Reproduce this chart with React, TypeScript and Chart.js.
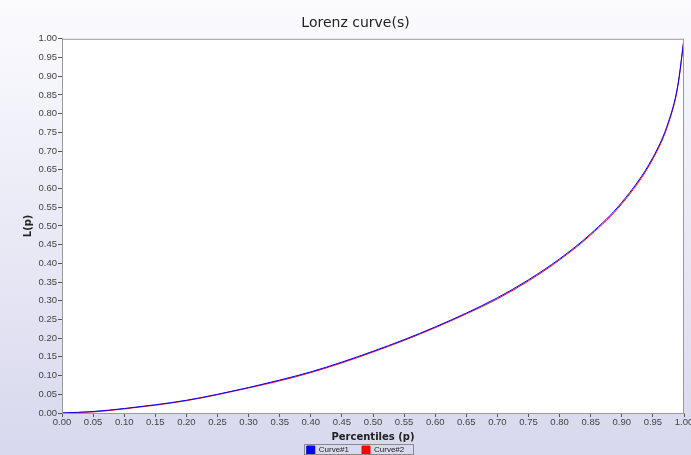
import React, { useEffect, useRef } from "react";
import { Chart, registerables } from "chart.js";

Chart.register(...registerables);

const percentiles = [0, 0.05, 0.1, 0.15, 0.2, 0.25, 0.3, 0.35, 0.4, 0.45, 0.5, 0.55, 0.6, 0.65, 0.7, 0.75, 0.8, 0.85, 0.9, 0.95, 0.975, 0.99, 1.0];
const curve1 = [0, 0.004, 0.012, 0.022, 0.034, 0.05, 0.068, 0.088, 0.11, 0.136, 0.165, 0.196, 0.23, 0.267, 0.308, 0.356, 0.412, 0.479, 0.563, 0.683, 0.778, 0.875, 1.0];
const curve2 = [0, 0.003, 0.011, 0.021, 0.033, 0.049, 0.067, 0.086, 0.108, 0.134, 0.163, 0.194, 0.228, 0.265, 0.305, 0.353, 0.409, 0.476, 0.559, 0.679, 0.774, 0.872, 1.0];
const seriesNames = ["Curve#1", "Curve#2"];
const seriesColors = ["#0000ff", "#ff0000"];
const chartTitle = "Lorenz curve(s)";
const xTitle = "Percentiles (p)";
const yTitle = "L(p)";

const LEGEND_SHIFT = 10;

const bgPlugin = {
  id: "bgPlugin",
  beforeDraw(chart: any) {
    const { ctx, width, height, chartArea } = chart;
    const lg = chart.legend;
    if (lg && !lg.__wrapped) {
      const origDraw = lg.draw;
      lg.draw = function (...args: any[]) {
        const t = this.top;
        this.top = t - LEGEND_SHIFT;
        origDraw.apply(this, args);
        this.top = t;
      };
      lg.__wrapped = true;
    }
    ctx.save();
    const g = ctx.createLinearGradient(0, 0, 0, height);
    g.addColorStop(0, "#fbfbfe");
    g.addColorStop(1, "#d8d8ee");
    ctx.fillStyle = g;
    ctx.fillRect(0, 0, width, height);
    ctx.fillStyle = "#ffffff";
    ctx.fillRect(chartArea.left, chartArea.top, chartArea.right - chartArea.left, chartArea.bottom - chartArea.top);
    ctx.restore();
  },
  afterDraw(chart: any) {
    const { ctx, chartArea, height } = chart;
    ctx.save();
    ctx.strokeStyle = "#9a9a9a";
    ctx.lineWidth = 1;
    ctx.strokeRect(chartArea.left + 0.5, chartArea.top + 0.5, chartArea.right - chartArea.left - 1, chartArea.bottom - chartArea.top);
    const lg = chart.legend;
    if (lg && lg.legendHitBoxes && lg.legendHitBoxes.length) {
      const boxes = lg.legendHitBoxes;
      const l = Math.min(...boxes.map((b: any) => b.left)) - 3;
      const r = Math.max(...boxes.map((b: any) => b.left + b.width)) + 9;
      const t = Math.min(...boxes.map((b: any) => b.top)) - LEGEND_SHIFT - 2;
      ctx.strokeStyle = "#8a8a8a";
      ctx.strokeRect(Math.round(l) + 0.5, Math.round(t) + 0.5, Math.round(r - l), height - Math.round(t) - 1);
    }
    ctx.restore();
  },
};

export default function App() {
  const ref = useRef<HTMLCanvasElement | null>(null);
  useEffect(() => {
    document.body.style.margin = "0";
    if (!ref.current) return;
    const tickFont = { family: "'Liberation Sans', Arial, sans-serif", size: 9.5 };
    const axisTitleFont = { family: "'DejaVu Sans', Verdana, sans-serif", size: 10, weight: "bold" };
    const chart = new Chart(ref.current, {
      type: "line",
      data: {
        datasets: [
          {
            label: seriesNames[0],
            data: percentiles.map((p, i) => ({ x: p, y: curve1[i] })),
            borderColor: seriesColors[0],
            backgroundColor: seriesColors[0],
            borderWidth: 1,
            pointRadius: 0,
            cubicInterpolationMode: "monotone",
          },
          {
            label: seriesNames[1],
            data: percentiles.map((p, i) => ({ x: p, y: curve2[i] })),
            borderColor: seriesColors[1],
            backgroundColor: seriesColors[1],
            borderWidth: 1,
            pointRadius: 0,
            cubicInterpolationMode: "monotone",
          },
        ],
      },
      options: {
        animation: false,
        responsive: false,
        layout: { padding: { left: 20, right: 0, top: 10, bottom: 0 } },
        plugins: {
          title: {
            display: true,
            text: chartTitle,
            color: "#222222",
            font: { family: "'DejaVu Sans', Verdana, sans-serif", size: 14, weight: "normal" },
            padding: { top: 5, bottom: 7 },
          },
          legend: {
            position: "bottom",
            maxHeight: 12,
            labels: {
              boxWidth: 8,
              boxHeight: 8,
              padding: 13,
              color: "#222222",
              font: { family: "'Liberation Sans', Arial, sans-serif", size: 8 },
            },
          },
          tooltip: { enabled: false },
        },
        scales: {
          x: {
            type: "linear",
            min: 0,
            max: 1,
            afterFit: (s: any) => {
              s.height = 30;
              s.paddingRight = 7;
            },
            ticks: {
              stepSize: 0.05,
              color: "#444444",
              font: tickFont,
              maxRotation: 0,
              autoSkip: false,
              padding: 0,
              callback: (v: any) => Number(v).toFixed(2),
            },
            grid: { drawOnChartArea: false, drawTicks: true, tickLength: 4, color: "#555555" },
            border: { color: "#9a9a9a" },
            title: {
              display: true,
              text: xTitle,
              color: "#222222",
              font: axisTitleFont,
              padding: { top: 0, bottom: 0 },
            },
          },
          y: {
            type: "linear",
            min: 0,
            max: 1,
            afterFit: (s: any) => {
              s.width = 42;
            },
            ticks: {
              stepSize: 0.05,
              color: "#444444",
              font: tickFont,
              autoSkip: false,
              padding: 1,
              callback: (v: any) => Number(v).toFixed(2),
            },
            grid: { drawOnChartArea: false, drawTicks: true, tickLength: 4, color: "#555555" },
            border: { color: "#9a9a9a" },
            title: {
              display: true,
              text: yTitle,
              color: "#222222",
              font: axisTitleFont,
              padding: { top: 2, bottom: 0 },
            },
          },
        },
      },
      plugins: [bgPlugin],
    } as any);
    return () => chart.destroy();
  }, []);
  return (
    <div style={{ width: 691, height: 455 }}>
      <canvas ref={ref} width={691} height={455} style={{ display: "block" }} />
    </div>
  );
}
